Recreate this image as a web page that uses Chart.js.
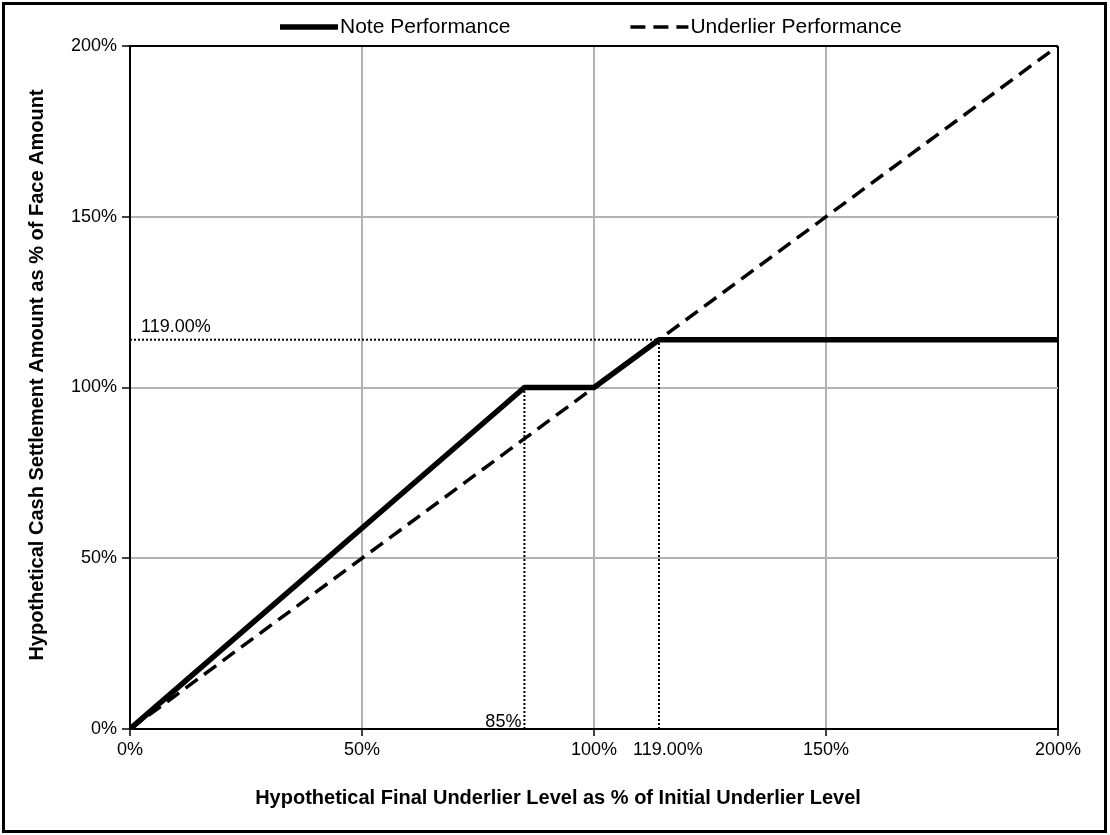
<!DOCTYPE html>
<html><head><meta charset="utf-8">
<script src="https://cdn.jsdelivr.net/npm/chart.js@4.4.0/dist/chart.umd.min.js"></script>
<style>html,body{margin:0;padding:0;background:#fff}#wrap{width:1110px;height:835px;position:relative}</style>
</head><body><div id="wrap"><canvas id="c" width="1110" height="835"></canvas></div>
<script>
// ---- data ----
const noteLevels = [0, 85, 100, 114, 200];        // underlier level (% of initial)
const noteValues = [0, 100, 100, 114, 114];       // note payout (% of face)
const underlierLevels = [0, 200];
const underlierValues = [0, 200];
const xTickValues = [0, 50, 100, 150, 200];
const yTickValues = [0, 50, 100, 150, 200];
const bufferLevel = 85;
const bufferLabel = '85%';
const capLevel = 114;
const capLabel = '119.00%';
const seriesNames = ['Note Performance', 'Underlier Performance'];
const xTitle = 'Hypothetical Final Underlier Level as % of Initial Underlier Level';
const yTitle = 'Hypothetical Cash Settlement Amount as % of Face Amount';

const FONT = '"Liberation Sans", Arial, sans-serif';
const GRID = '#b3b3b3';

const pts = (xs, ys) => xs.map((x, i) => ({x, y: ys[i]}));

const guideStyle = {borderColor: '#000', borderWidth: 2, borderDash: [2, 2], pointRadius: 0, fill: false};

const datasets = [
  {label: seriesNames[0], data: pts(noteLevels, noteValues), borderColor: '#000', borderWidth: 5.5, pointRadius: 0, tension: 0, borderJoinStyle: 'round', borderCapStyle: 'butt'},
  {label: seriesNames[1], data: pts(underlierLevels, underlierValues), borderColor: '#000', borderWidth: 3.5, borderDash: [15, 8], pointRadius: 0, tension: 0},
  Object.assign({label: 'capH', data: [{x: 0, y: capLevel}, {x: capLevel, y: capLevel}]}, guideStyle),
  Object.assign({label: 'bufV', data: [{x: bufferLevel, y: 0}, {x: bufferLevel, y: 100}]}, guideStyle),
  Object.assign({label: 'capV', data: [{x: capLevel, y: 0}, {x: capLevel, y: capLevel}]}, guideStyle)
];

const decor = {
  id: 'decor',
  afterDraw(chart) {
    const ctx = chart.ctx;
    const xs = chart.scales.x, ys = chart.scales.y;
    ctx.save();
    // outer frame
    ctx.strokeStyle = '#000'; ctx.lineWidth = 3; ctx.setLineDash([]);
    ctx.strokeRect(3.5, 3.5, 1102, 828);
    // legend
    ctx.font = '21px ' + FONT; ctx.fillStyle = '#000'; ctx.textBaseline = 'middle'; ctx.textAlign = 'left';
    const ly = 27;
    let lx = 280;
    [0, 1].forEach(i => {
      const ds = chart.data.datasets[i];
      ctx.lineWidth = ds.borderWidth;
      ctx.setLineDash(ds.borderDash || []);
      ctx.beginPath(); ctx.moveTo(lx, ly); ctx.lineTo(lx + 58, ly); ctx.stroke();
      ctx.setLineDash([]);
      ctx.fillText(ds.label, lx + 60, ly);
      lx += 60 + ctx.measureText(ds.label).width + 120;
    });
    // axis titles
    ctx.font = 'bold 20px ' + FONT;
    ctx.textAlign = 'center'; ctx.textBaseline = 'middle';
    ctx.fillText(xTitle, 558, 798);
    ctx.save();
    ctx.translate(37, 375); ctx.rotate(-Math.PI / 2);
    ctx.fillText(yTitle, 0, 0);
    ctx.restore();
    // annotations
    ctx.font = '18px ' + FONT;
    ctx.textBaseline = 'alphabetic';
    ctx.textAlign = 'left';
    ctx.fillText(capLabel, chart.chartArea.left + 11, ys.getPixelForValue(capLevel) - 8);
    ctx.textAlign = 'right';
    ctx.fillText(bufferLabel, xs.getPixelForValue(bufferLevel) - 3, ys.getPixelForValue(0) - 2);
    ctx.textAlign = 'center'; ctx.textBaseline = 'middle';
    ctx.fillText(capLabel, xs.getPixelForValue(capLevel) + 9, chart.chartArea.bottom + 21);
    ctx.restore();
  }
};

new Chart(document.getElementById('c'), {
  type: 'line',
  data: {datasets},
  options: {
    responsive: false,
    devicePixelRatio: 1,
    animation: false,
    layout: {padding: {top: 46, right: 52, bottom: 10, left: 10}},
    plugins: {legend: {display: false}, tooltip: {enabled: false}},
    scales: {
      x: {
        type: 'linear', min: 0, max: 200,
        afterBuildTicks: s => { s.ticks = xTickValues.map(v => ({value: v})); },
        afterFit: s => { s.height = 96; },
        ticks: {callback: v => v + '%', color: '#000', font: {family: FONT, size: 18}, padding: 3, maxRotation: 0},
        grid: {color: c => (c.tick && c.tick.value === 200) ? '#000' : GRID, lineWidth: 2, tickColor: '#000', tickLength: 7, tickWidth: 1.5},
        border: {color: '#000', width: 2},
        title: {display: false}
      },
      y: {
        type: 'linear', min: 0, max: 200,
        afterBuildTicks: s => { s.ticks = yTickValues.map(v => ({value: v})); },
        afterFit: s => { s.width = 120; },
        ticks: {callback: v => v + '%', color: '#000', font: {family: FONT, size: 18}, padding: 5},
        grid: {color: c => (c.tick && c.tick.value === 200) ? '#000' : GRID, lineWidth: 2, tickColor: '#000', tickLength: 8, tickWidth: 1.5},
        border: {color: '#000', width: 2},
        title: {display: false}
      }
    }
  },
  plugins: [decor]
});
</script>
</body></html>
